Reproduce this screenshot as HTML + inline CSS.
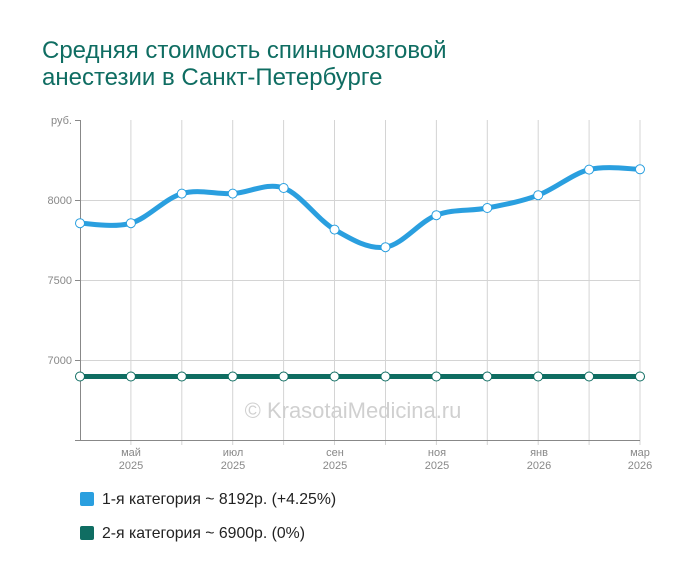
<!DOCTYPE html>
<html><head><meta charset="utf-8"><style>
body{margin:0;background:#fff;width:700px;height:583px;overflow:hidden;font-family:"Liberation Sans",sans-serif}
.t{position:absolute;left:42px;top:37px;font-size:24px;line-height:27px;color:#0f6d62}
.lg{position:absolute;left:80px;font-size:15.8px;color:#222}
.lg span{display:inline-block;width:14px;height:14px;border-radius:2px;vertical-align:-2px;margin-right:8px}
</style></head><body>
<div class="t">Средняя стоимость спинномозговой<br>анестезии в Санкт-Петербурге</div>
<svg width="700" height="583" style="position:absolute;left:0;top:0">
<g stroke="#d4d4d4" stroke-width="1">
<line x1="80" x2="640" y1="200.5" y2="200.5"/><line x1="80" x2="640" y1="280.5" y2="280.5"/><line x1="80" x2="640" y1="360.5" y2="360.5"/>
<g id="vg"></g>
</g>
<line x1="80.5" y1="120" x2="80.5" y2="440" stroke="#888"/>
<line x1="80" y1="440.5" x2="640" y2="440.5" stroke="#888"/>
<g stroke="#888"><line x1="75" x2="80" y1="120.5" y2="120.5"/><line x1="75" x2="80" y1="200.5" y2="200.5"/><line x1="75" x2="80" y1="280.5" y2="280.5"/><line x1="75" x2="80" y1="360.5" y2="360.5"/><line x1="75" x2="80" y1="440.5" y2="440.5"/></g>
<g font-size="11" fill="#888" text-anchor="end"><text x="72" y="124">руб.</text><text x="72" y="204">8000</text><text x="72" y="284">7500</text><text x="72" y="364">7000</text></g>
<g font-size="11" fill="#888" text-anchor="middle">
<text x="131" y="456">май</text><text x="131" y="469">2025</text>
<text x="233" y="456">июл</text><text x="233" y="469">2025</text>
<text x="335" y="456">сен</text><text x="335" y="469">2025</text>
<text x="437" y="456">ноя</text><text x="437" y="469">2025</text>
<text x="539" y="456">янв</text><text x="539" y="469">2026</text>
<text x="640" y="456">мар</text><text x="640" y="469">2026</text>
</g>
<text x="353" y="418" font-size="22" fill="#d0d0d0" text-anchor="middle">© KrasotaiMedicina.ru</text>
<line x1="80" x2="640" y1="376.5" y2="376.5" stroke="#0f6d62" stroke-width="5"/>
<path id="bl" fill="none" stroke="#2a9fdf" stroke-width="5"/>
<g id="pts"></g>
</svg>
<div class="lg" style="top:491px"><span style="background:#2a9fdf"></span>1-я категория ~ 8192р. (+4.25%)</div>
<div class="lg" style="top:525px"><span style="background:#0f6d62"></span>2-я категория ~ 6900р. (0%)</div>
<script>
var xs=[],v=[7855,7855,8040,8040,8075,7815,7705,7905,7950,8030,8190,8192];
for(var i=0;i<12;i++)xs.push(80+i*560/11);
var ys=v.map(function(a){return 200-(a-8000)*0.16});
var vg='';for(var i=1;i<12;i++){vg+='<line x1="'+xs[i].toFixed(1)+'" x2="'+xs[i].toFixed(1)+'" y1="120" y2="445"/>';}
document.getElementById('vg').innerHTML=vg;
var d='M'+xs[0]+' '+ys[0];
for(var i=0;i<11;i++){var p0=i?i-1:0,p3=i<10?i+2:11;
var c1x=xs[i]+(xs[i+1]-xs[p0])/6,c1y=ys[i]+(ys[i+1]-ys[p0])/6,c2x=xs[i+1]-(xs[p3]-xs[i])/6,c2y=ys[i+1]-(ys[p3]-ys[i])/6;
d+=' C'+c1x+' '+c1y+' '+c2x+' '+c2y+' '+xs[i+1]+' '+ys[i+1];}
document.getElementById('bl').setAttribute('d',d);
var p='';for(var i=0;i<12;i++){p+='<circle cx="'+xs[i]+'" cy="'+ys[i]+'" r="4.5" fill="#fff" stroke="#2a9fdf" stroke-width="1"/><circle cx="'+xs[i]+'" cy="376.5" r="4.5" fill="#fff" stroke="#0f6d62" stroke-width="1"/>';}
document.getElementById('pts').innerHTML=p;
</script>
</body></html>
